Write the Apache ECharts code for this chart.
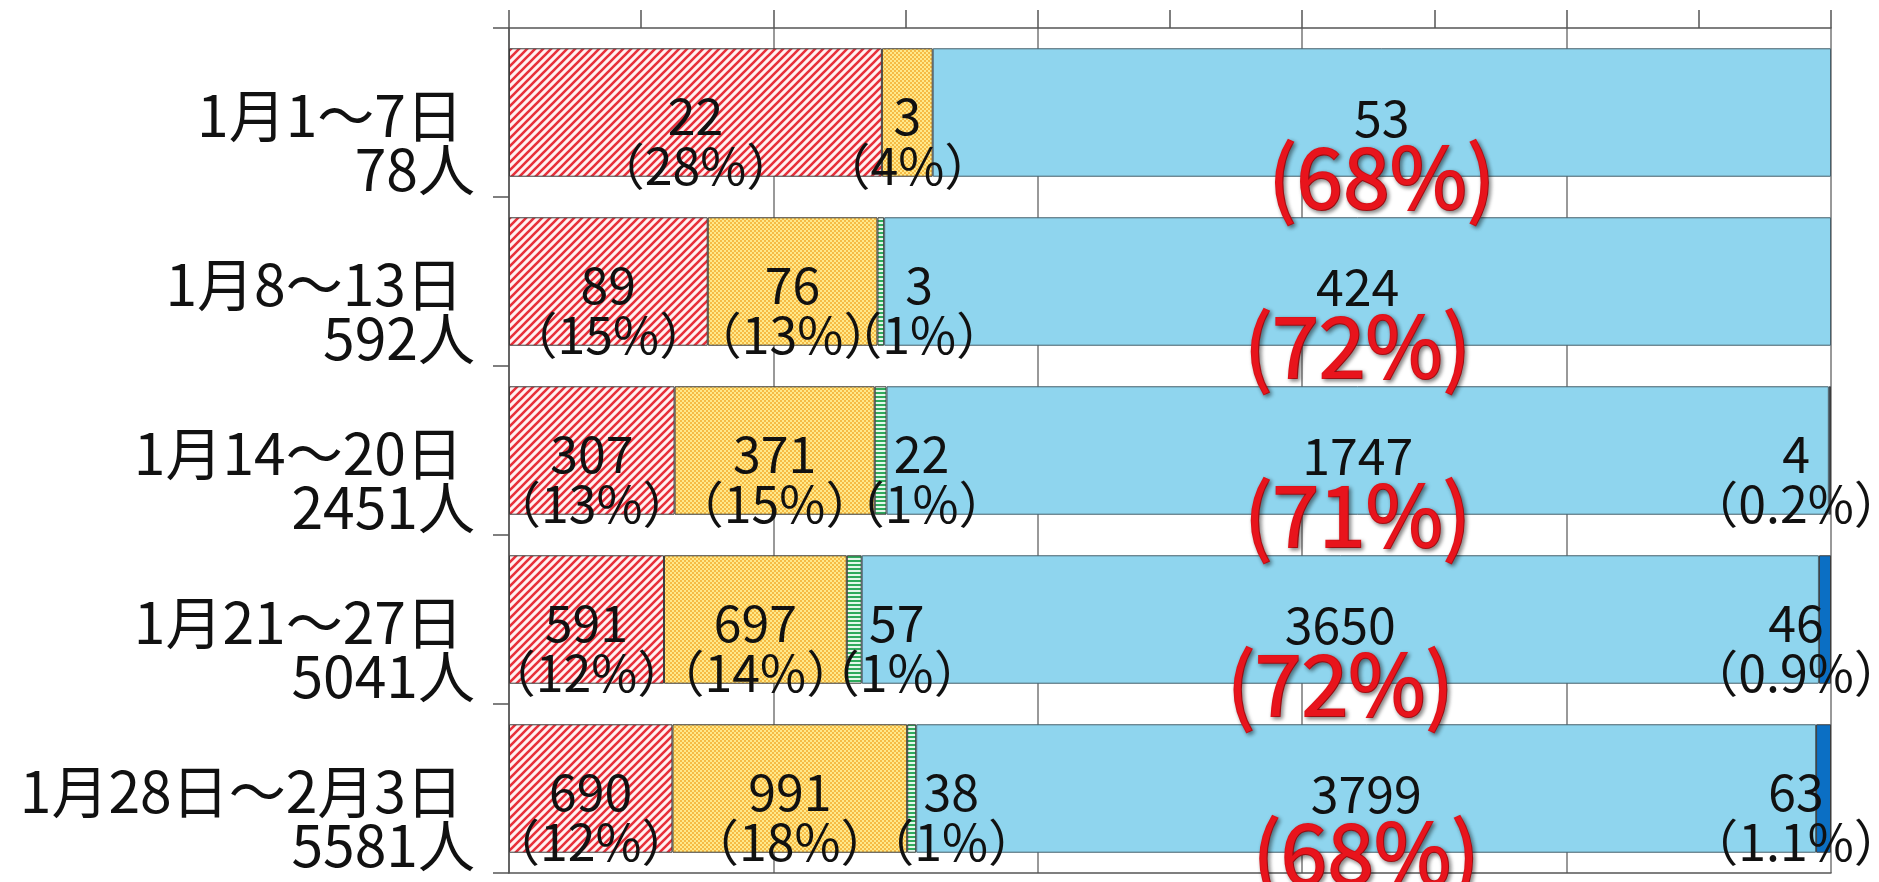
<!DOCTYPE html>
<html>
<head>
<meta charset="utf-8">
<script src="https://cdn.jsdelivr.net/npm/echarts@6/dist/echarts.min.js"></script>
<style>
  html, body { margin: 0; padding: 0; background: #fff; }
  #chart { width: 1879px; height: 882px; }
</style>
</head>
<body>
<div id="chart"></div>
<script>
// 期間と合計人数
const periods = ['1月1～7日', '1月8～13日', '1月14～20日', '1月21～27日', '1月28日～2月3日']
const totals = [78, 592, 2451, 5041, 5581]

// 各区分の人数
const redCounts = [22, 89, 307, 591, 690]
const yellowCounts = [3, 76, 371, 697, 991]
const greenCounts = [null, 3, 22, 57, 38]
const blueCounts = [53, 424, 1747, 3650, 3799]
const darkCounts = [null, null, 4, 46, 63]

// ラベルの割合
const redPct = ['28%', '15%', '13%', '12%', '12%']
const yellowPct = ['4%', '13%', '15%', '14%', '18%']
const greenPct = [null, '1%', '1%', '1%', '1%']
const bluePct = ['68%', '72%', '71%', '72%', '68%']
const darkPct = [null, null, '0.2%', '0.9%', '1.1%']

const FONT = '"Noto Sans CJK JP", "Noto Sans", sans-serif'

// パターン（ハッチング）
function makePattern(size, draw) {
  const c = document.createElement('canvas')
  c.width = size
  c.height = size
  draw(c.getContext('2d'), size)
  return { image: c, repeat: 'repeat' }
}

const redHatch = makePattern(8, (ctx, s) => {
  ctx.fillStyle = '#fff2f2'
  ctx.fillRect(0, 0, s, s)
  ctx.strokeStyle = '#e8303a'
  ctx.lineWidth = 2.6
  ctx.beginPath()
  ctx.moveTo(-2, s + 2); ctx.lineTo(s + 2, -2)
  ctx.moveTo(-2, 2); ctx.lineTo(2, -2)
  ctx.moveTo(s - 2, s + 2); ctx.lineTo(s + 2, s - 2)
  ctx.stroke()
})

const yellowDots = makePattern(4, (ctx, s) => {
  ctx.fillStyle = '#ffe98a'
  ctx.fillRect(0, 0, s, s)
  ctx.fillStyle = '#f6bb45'
  ctx.fillRect(0, 0, 2, 2)
  ctx.fillRect(2, 2, 2, 2)
})

const greenStripes = makePattern(4, (ctx, s) => {
  ctx.fillStyle = '#e4f7ea'
  ctx.fillRect(0, 0, s, s)
  ctx.fillStyle = '#2faa5c'
  ctx.fillRect(0, 0, s, 2)
})

function pctValues(counts) {
  return counts.map((v, i) => v == null ? null : v / totals[i] * 100)
}

const blackLabel = {
  show: true,
  fontFamily: FONT,
  fontSize: 50,
  lineHeight: 50,
  color: '#111'
}

function simpleLabel(counts, pcts, extra) {
  return Object.assign({}, blackLabel, {
    formatter: p => counts[p.dataIndex] + '\n（' + pcts[p.dataIndex] + '）'
  }, extra)
}

const itemBorder = { borderColor: '#3c3c3c', borderWidth: 1 }

const chart = echarts.init(document.getElementById('chart'))

chart.setOption({
  animation: false,
  grid: { left: 509, right: 48, top: 28, bottom: 9 },
  xAxis: [
    {
      type: 'value',
      position: 'top',
      min: 0,
      max: 100,
      interval: 10,
      axisLine: { show: true, lineStyle: { color: '#555', width: 1.5 } },
      axisTick: { show: true, length: 18, lineStyle: { color: '#555', width: 1.5 } },
      axisLabel: { show: false },
      splitLine: { show: false }
    },
    {
      type: 'value',
      position: 'bottom',
      min: 0,
      max: 100,
      interval: 20,
      axisLine: { show: true, lineStyle: { color: '#555', width: 1.5 } },
      axisTick: { show: false },
      axisLabel: { show: false },
      splitLine: { show: true, lineStyle: { color: '#777', width: 1.5 } }
    }
  ],
  yAxis: {
    type: 'category',
    inverse: true,
    data: periods.map((p, i) => '{a|' + p + '}\n{b|' + totals[i] + '人}'),
    axisLine: { show: true, lineStyle: { color: '#555', width: 1.5 } },
    axisTick: { show: true, length: 16, lineStyle: { color: '#555', width: 1.5 } },
    axisLabel: {
      margin: 34,
      padding: [60, 0, 0, 0],
      fontFamily: FONT,
      color: '#111',
      rich: {
        a: { fontFamily: FONT, fontSize: 57, lineHeight: 54, color: '#111', padding: [0, 12, 0, 0] },
        b: { fontFamily: FONT, fontSize: 57, lineHeight: 54, color: '#111' }
      }
    }
  },
  series: [
    {
      name: 'red',
      type: 'bar',
      stack: 'total',
      barWidth: '76%',
      data: pctValues(redCounts),
      itemStyle: Object.assign({ color: redHatch }, itemBorder),
      label: simpleLabel(redCounts, redPct, { position: 'inside', offset: [0, 28] })
    },
    {
      name: 'yellow',
      type: 'bar',
      stack: 'total',
      data: pctValues(yellowCounts),
      itemStyle: Object.assign({ color: yellowDots }, itemBorder),
      label: simpleLabel(yellowCounts, yellowPct, { position: 'inside', offset: [0, 28] })
    },
    {
      name: 'green',
      type: 'bar',
      stack: 'total',
      data: pctValues(greenCounts),
      itemStyle: Object.assign({ color: greenStripes }, itemBorder),
      label: simpleLabel(greenCounts, greenPct, {
        position: ['100%', '50%'],
        align: 'center',
        verticalAlign: 'middle',
        offset: [35, 28]
      })
    },
    {
      name: 'blue',
      type: 'bar',
      stack: 'total',
      data: pctValues(blueCounts),
      itemStyle: Object.assign({ color: '#8fd5ee' }, itemBorder, { borderColor: '#46606c' }),
      label: {
        show: true,
        position: 'inside',
        offset: [0, 40],
        formatter: p => '{v|' + blueCounts[p.dataIndex] + '}\n{p|(' + bluePct[p.dataIndex] + ')}',
        rich: {
          v: { fontFamily: FONT, fontSize: 50, lineHeight: 50, color: '#111' },
          p: {
            fontFamily: FONT,
            fontSize: 84,
            lineHeight: 70,
            fontWeight: 'normal',
            color: '#e8141c',
            textBorderColor: '#e8141c',
            textBorderWidth: 2,
            textShadowColor: 'rgba(0,0,0,0.45)',
            textShadowBlur: 4,
            textShadowOffsetX: 2,
            textShadowOffsetY: 2
          }
        }
      }
    },
    {
      name: 'dark',
      type: 'bar',
      stack: 'total',
      data: pctValues(darkCounts),
      itemStyle: Object.assign({ color: '#0b6fc4' }, itemBorder),
      label: simpleLabel(darkCounts, darkPct, {
        position: ['100%', '50%'],
        align: 'center',
        verticalAlign: 'middle',
        offset: [-35, 28]
      })
    }
  ]
})
</script>
</body>
</html>
